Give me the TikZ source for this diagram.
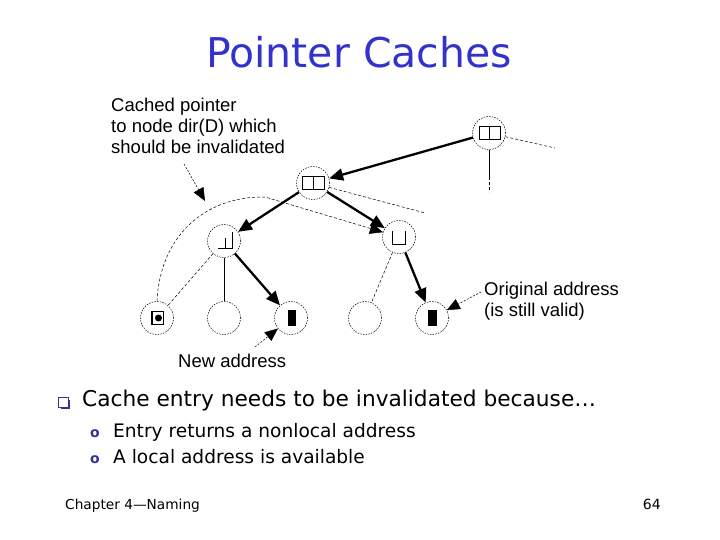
\documentclass[tikz,border=0pt]{standalone}
\usepackage{fontspec}
\setmainfont{Liberation Sans}
\newfontfamily\slidefont{DejaVu Sans}
\usetikzlibrary{arrows.meta}
\definecolor{titleblue}{RGB}{51,51,204}
\definecolor{bulletblue}{RGB}{51,51,153}
\tikzset{
  tnode/.style={circle, draw, dash pattern=on 1.5pt off 1.2pt, line width=0.5pt, minimum size=33pt, inner sep=0pt},
  ptr/.style={line width=2.3pt, -{Triangle[length=14pt,width=12pt]}},
  thinline/.style={line width=0.6pt},
  thindash/.style={line width=0.5pt, dash pattern=on 3pt off 2pt},
  note/.style={line width=0.5pt, dash pattern=on 2pt off 1.5pt, -{Triangle[length=13pt,width=11pt,sep=0pt]}},
  lbl/.style={font=\fontsize{18.5}{22}\selectfont, inner sep=0pt, anchor=base west},
  slide/.style={font=\slidefont, inner sep=0pt, anchor=base west},
  icon/.style={line width=0.9pt},
}
\begin{document}
\begin{tikzpicture}[x=1pt,y=-1pt]
\useasboundingbox (0,0) rectangle (720,540);

% title
\node[font=\slidefont\fontsize{41}{48}\selectfont, text=titleblue, inner sep=0pt, anchor=base] (title) at (359,68) {Pointer Caches};

% tree nodes
\node[tnode] (root) at (489,133) {};
\node[tnode] (mid) at (313,183) {};
\node[tnode] (lc) at (224,241) {};
\node[tnode] (rc) at (399,237) {};
\node[tnode] (l1) at (157,318) {};
\node[tnode] (l2) at (224,318) {};
\node[tnode] (l3) at (291,318) {};
\node[tnode] (l4) at (365,318) {};
\node[tnode] (l5) at (432,318) {};

% icons
\draw[icon] (479,126.5) rectangle (500,139.5) (489.5,126.5) -- (489.5,139.5);
\draw[icon] (302.5,176.5) rectangle (324,189.5) (313.5,176.5) -- (313.5,189.5);
\draw[icon] (218,248.5) -- (232,248.5) (225.5,238) -- (225.5,248.5) (232,232) -- (232,248.5);
\draw[icon] (392.5,231) -- (392.5,244) -- (405,244) -- (405,231);
\draw[icon] (151,311.5) rectangle (163.5,324.5);
\draw[line width=1.8pt] (152,312) -- (152,324.5);
\fill (158.5,318) circle (3.5pt);
\fill (287.5,309.5) rectangle (296,325.5);
\fill (428,309.5) rectangle (436.5,325.5);

% connectors
\coordinate (rd1) at (489,177);
\coordinate (rd2) at (489,192);
\coordinate (rr) at (555,148);
\coordinate (mr) at (425,213);
\draw[thinline] (root) -- (rd1);
\draw[thindash] (rd1) -- (rd2);
\draw[thindash] (root) -- (rr);
\draw[thindash] (mid) -- (mr);
\draw[ptr] (root) -- (mid);
\draw[ptr] (mid) -- (lc);
\draw[ptr] (mid) -- (rc);
\draw[ptr] (lc) -- (l3);
\draw[ptr] (rc) -- (l5);
\draw[thindash] (lc) -- (l1);
\draw[thinline] (lc) -- (l2);
\draw[thindash] (rc) -- (l4);
\draw[thindash, -{Triangle[length=13pt,width=11pt]}] (l1.north) .. controls (160,236) and (205,196) .. (265,197) -- (rc);

% annotations
\node[lbl] (cp1) at (111,112) {Cached pointer};
\node[lbl] (cp2) at (111,133) {to node dir(D) which};
\node[lbl] (cp3) at (111,154) {should be invalidated};
\coordinate (cpa) at (184,164);
\coordinate (cpt) at (205,201);
\draw[note] (cpa) -- (cpt);

\node[lbl] (oa1) at (484,295) {Original address};
\node[lbl] (oa2) at (484,316) {(is still valid)};
\coordinate (oas) at (481,292);
\draw[note] (oas) -- (l5);

\node[lbl] (na) at (178,367) {New address};
\coordinate (nas) at (255,347);
\draw[note] (nas) -- (l3);

% bullets
\fill[bulletblue] (60.5,399.5) rectangle (70,409);
\draw[bulletblue, fill=white, line width=0.8pt] (58,397) rectangle (68,407);
\node[slide, font=\slidefont\fontsize{21.7}{25}\selectfont] (b1) at (82,406) {Cache entry needs to be invalidated because…};
\node[slide, text=bulletblue, font=\slidefont\bfseries\fontsize{14}{16}\selectfont] (o1) at (90,437) {o};
\node[slide, font=\slidefont\fontsize{18.6}{20}\selectfont] (b2) at (113,437) {Entry returns a nonlocal address};
\node[slide, text=bulletblue, font=\slidefont\bfseries\fontsize{14}{16}\selectfont] (o2) at (90,463) {o};
\node[slide, font=\slidefont\fontsize{18.6}{20}\selectfont] (b3) at (113,463) {A local address is available};

% footer
\node[slide, font=\slidefont\fontsize{13.7}{16}\selectfont] (ft) at (65,509) {Chapter 4—Naming};
\node[inner sep=0pt, anchor=base east, font=\slidefont\fontsize{14}{16}\selectfont] (pg) at (661,509) {64};
\end{tikzpicture}
\end{document}
